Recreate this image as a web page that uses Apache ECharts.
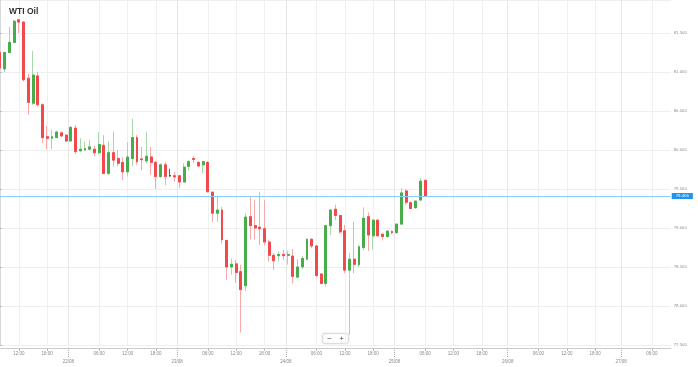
<!DOCTYPE html>
<html><head><meta charset="utf-8">
<script src="https://cdn.jsdelivr.net/npm/echarts@6/dist/echarts.min.js"></script>
<style>html,body{margin:0;padding:0;background:#fff}#c{width:698px;height:367px}</style>
</head><body><div id="c"></div>
<script>
const chartTitle = 'WTI Oil';
const dataDays = ['21/08', '22/08', '23/08', '24/08'];
const futureDays = ['25/08', '26/08', '27/08'];
const firstHour = 8;
const lastHour = 10;
const breakHour = 21;
const timeLabelHours = [6, 12, 18];

const opens = [81.25,81.04,81.25,81.38,81.67,81.64,80.92,80.60,80.95,80.58,
  80.17,80.15,80.16,80.22,80.19,80.115,80.28,79.99,80.00,80.01,
  80.01,79.965,80.06,79.70,79.965,79.89,79.84,79.72,79.89,80.16,
  79.885,79.86,79.91,79.84,79.66,79.81,79.67,79.67,79.67,79.59,
  79.79,79.89,79.84,79.81,79.84,79.46,79.19,79.23,78.84,78.50,
  78.54,78.44,78.26,79.145,79.03,79.01,78.99,78.82,78.65,78.645,
  78.66,78.65,78.64,78.37,78.50,78.60,78.855,78.77,78.41,78.29,
  79.03,79.24,79.16,78.965,78.46,78.60,78.53,78.75,79.145,78.90,
  79.10,78.92,78.89,78.955,78.94,79.05,79.475,79.325,79.26,79.36,79.61];
const closes = [81.05,81.25,81.38,81.65,81.64,80.90,80.61,80.96,80.58,80.16,
  80.15,80.17,80.23,80.18,80.115,80.29,79.98,80.01,80.02,80.04,
  79.965,80.07,79.70,79.965,79.87,79.83,79.72,79.91,80.16,79.85,
  79.875,79.92,79.84,79.66,79.81,79.66,79.67,79.655,79.59,79.78,
  79.85,79.88,79.795,79.85,79.465,79.19,79.23,78.85,78.50,78.535,
  78.43,78.21,79.14,79.03,79.00,78.99,78.82,78.65,78.58,78.66,
  78.645,78.66,78.38,78.50,78.61,78.855,78.77,78.39,78.29,79.03,
  79.23,79.16,78.95,78.46,78.60,78.535,78.76,79.125,78.91,79.10,
  78.90,78.89,78.96,78.94,79.05,79.45,79.33,79.25,79.345,79.60,79.406];
const lows = [81.03,81.00,81.24,81.37,81.50,80.88,80.45,80.58,80.555,80.09,
  80.01,80.01,80.15,80.17,80.10,80.105,79.95,79.97,79.99,80.00,
  79.92,79.94,79.69,79.68,79.79,79.79,79.615,79.66,79.79,79.81,
  79.74,79.83,79.68,79.50,79.64,79.55,79.66,79.59,79.51,79.58,
  79.735,79.83,79.78,79.70,79.455,79.08,79.08,78.80,78.33,78.40,
  78.295,77.66,78.19,78.855,78.85,78.78,78.78,78.57,78.46,78.57,
  78.59,78.53,78.29,78.355,78.475,78.59,78.74,78.37,78.28,78.25,
  78.91,79.10,78.93,78.42,77.63,78.42,78.50,78.72,78.705,78.72,
  78.89,78.84,78.88,78.92,78.93,79.04,79.30,79.24,79.25,79.34,79.40];
const highs = [81.28,81.26,81.58,81.67,81.68,81.65,80.98,81.27,81.00,80.60,
  80.31,80.26,80.25,80.235,80.205,80.31,80.32,80.15,80.11,80.13,
  80.06,80.23,80.19,80.11,80.235,80.00,79.91,80.10,80.40,80.19,
  80.04,80.235,80.04,79.86,79.83,79.85,79.76,79.72,79.68,79.83,
  79.87,79.92,79.86,79.86,79.86,79.465,79.40,79.27,78.85,78.61,
  78.59,78.53,79.19,79.41,79.36,79.465,79.36,78.85,78.68,78.70,
  78.72,78.71,78.73,78.60,78.64,78.87,78.87,78.78,78.42,79.04,
  79.24,79.30,79.17,79.04,78.68,79.08,78.78,79.265,79.20,79.115,
  79.115,78.93,78.96,78.97,79.06,79.51,79.50,79.34,79.35,79.64,79.62];

const pad = n => (n < 10 ? '0' : '') + n;
const categories = [];
dataDays.forEach((d, k) => {
  for (let h = (k === 0 ? firstHour : 0); h < 24; h++) {
    if (h === breakHour) continue;
    categories.push(d + ' ' + pad(h) + ':00');
  }
});
futureDays.forEach((d, k) => {
  const end = k === futureDays.length - 1 ? lastHour : 23;
  for (let h = 0; h <= end; h++) categories.push(d + ' ' + pad(h) + ':00');
});
const allDays = dataDays.concat(futureDays);
const dayBounds = [];
const dayNameByBound = {};
allDays.forEach(d => {
  const idx = categories.indexOf(d + ' 00:00');
  if (idx > 0) { dayBounds.push(idx - 0.5); dayNameByBound[idx - 0.5] = d; }
});
const hourOf = v => parseInt(v.slice(6, 8), 10);
const showHour = (i, v) => timeLabelHours.indexOf(hourOf(v)) >= 0;

const wickData = opens.map((o, i) => [o, closes[i], lows[i], highs[i]]);
const bodyData = opens.map((o, i) => [o, closes[i], Math.min(o, closes[i]), Math.max(o, closes[i])]);
const lastClose = closes[closes.length - 1];

const FONT = 'Liberation Sans, Arial, sans-serif';
const chart = echarts.init(document.getElementById('c'));
chart.setOption({
  animation: false,
  backgroundColor: '#ffffff',
  title: { text: chartTitle, left: 4, top: 2, textStyle: { fontSize: 8.5, fontWeight: 'bold', color: '#333', fontFamily: FONT } },
  grid: { left: 0, right: 27.3, top: 0, bottom: 22, containLabel: false },
  xAxis: [{
    type: 'category', data: categories, boundaryGap: false, position: 'bottom', offset: 3,
    axisLine: { lineStyle: { color: '#cccccc', width: 1 } },
    axisTick: { interval: showHour, length: 3, lineStyle: { color: '#bbbbbb' } },
    axisLabel: { interval: showHour, formatter: v => v.slice(6), fontSize: 4.5, color: '#8a8a8a', margin: 3, fontFamily: FONT },
    splitLine: { show: true, interval: showHour, lineStyle: { color: '#f0f0f0', width: 1 } }
  }, {
    type: 'value', min: 0, max: categories.length - 1, position: 'bottom', offset: 3,
    axisLine: { show: false },
    axisTick: { show: true, customValues: dayBounds, length: 10, lineStyle: { color: '#aaaaaa', type: 'dotted' } },
    axisLabel: { show: true, customValues: dayBounds, formatter: v => dayNameByBound[v] || '', fontSize: 4.5, color: '#8a8a8a', margin: 11.5, fontFamily: FONT },
    splitLine: { show: true, lineStyle: { color: '#e6e6e6', width: 1 } }
  }],
  yAxis: {
    type: 'value', position: 'right', min: 77.5, max: 81.923, interval: 0.5,
    axisLine: { show: true, lineStyle: { color: '#cccccc', width: 1.5 } },
    axisTick: { show: true, length: 2, lineStyle: { color: '#bbbbbb' } },
    axisLabel: { formatter: v => v.toFixed(3), fontSize: 4.3, color: '#8e8e8e', margin: 3, showMaxLabel: false, fontFamily: FONT },
    splitLine: { show: true, lineStyle: { color: '#efefef', width: 1 } }
  },
  graphic: [{
    type: 'group', left: 322, top: 333, children: [
      { type: 'rect', shape: { x: 0, y: 0, width: 26, height: 10, r: 2 }, style: { fill: '#fff', stroke: '#dddddd', lineWidth: 1, shadowBlur: 2, shadowColor: 'rgba(0,0,0,0.12)' } },
      { type: 'text', style: { x: 7, y: 5, text: '−', fontSize: 8, fill: '#444', align: 'center', verticalAlign: 'middle', fontFamily: FONT } },
      { type: 'text', style: { x: 19, y: 5, text: '+', fontSize: 8, fill: '#444', align: 'center', verticalAlign: 'middle', fontFamily: FONT } }
    ]
  }],
  series: [{
    name: 'wick', type: 'candlestick', data: wickData, barWidth: 2.4, silent: true,
    itemStyle: { color: '#a9d8ab', color0: '#f7a9a9', borderColor: '#a9d8ab', borderColor0: '#f7a9a9', borderColorDoji: '#666', borderWidth: 1 }
  }, {
    name: chartTitle, type: 'candlestick', data: bodyData, barWidth: 2.4,
    itemStyle: { color: '#46ad4a', color0: '#f24a4c', borderColor: '#46ad4a', borderColor0: '#f24a4c', borderColorDoji: '#333', borderWidth: 1 },
    markLine: {
      symbol: ['none', 'none'], silent: true, animation: false,
      lineStyle: { color: '#8ccbf6', width: 1, type: 'solid' },
      label: { position: 'end', distance: 1, formatter: lastClose.toFixed(3), backgroundColor: '#1f93f0', color: '#fff', fontSize: 4.3, padding: [1, 4], fontFamily: FONT },
      data: [{ yAxis: lastClose }]
    }
  }]
});
</script></body></html>
